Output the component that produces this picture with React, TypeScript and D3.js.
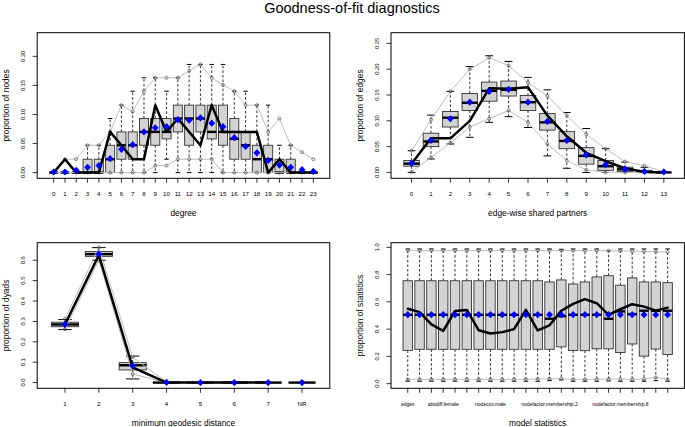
import * as d3 from "d3";

// ---- degree panel ----
const DEG_LABELS = ["0", "1", "2", "3", "4", "5", "6", "7", "8", "9", "10", "11", "12", "13", "14", "15", "16", "17", "18", "19", "20", "21", "22", "23"];
const DEG_OBS = [0, 0.023, 0, 0, 0, 0.07, 0.047, 0.023, 0.023, 0.116, 0.07, 0.093, 0.07, 0.047, 0.116, 0.07, 0.07, 0.07, 0.07, 0, 0.023, 0, 0, 0];
const DEG_MEAN = [0.001, 0.001, 0.004, 0.009, 0.012, 0.024, 0.04, 0.048, 0.07, 0.077, 0.079, 0.091, 0.09, 0.094, 0.085, 0.079, 0.06, 0.045, 0.034, 0.021, 0.013, 0.009, 0.005, 0.002];
const DEG_Q1 = [0, 0, 0, 0, 0, 0, 0.023, 0.023, 0.047, 0.047, 0.058, 0.07, 0.047, 0.07, 0.058, 0.047, 0.023, 0.023, 0, 0, 0, 0, 0, 0];
const DEG_MED = [0, 0, 0, 0, 0, 0.023, 0.047, 0.047, 0.07, 0.07, 0.07, 0.093, 0.093, 0.093, 0.07, 0.07, 0.058, 0.047, 0.023, 0.023, 0, 0, 0, 0];
const DEG_Q3 = [0, 0, 0, 0.023, 0.023, 0.047, 0.07, 0.07, 0.093, 0.093, 0.093, 0.116, 0.116, 0.116, 0.116, 0.116, 0.093, 0.07, 0.047, 0.047, 0.023, 0.023, 0, 0];
const DEG_WLO = [0, 0, 0, 0, 0, 0, 0, 0, 0, 0, 0.023, 0, 0, 0, 0, 0, 0, 0, 0, 0, 0, 0, 0, 0];
const DEG_WHI = [0, 0, 0, 0.047, 0.047, 0.093, 0.116, 0.14, 0.163, 0.163, 0.14, 0.163, 0.186, 0.186, 0.186, 0.186, 0.14, 0.14, 0.116, 0.116, 0.047, 0.047, 0, 0];
const DEG_BLO = [0, 0, 0, 0, 0, 0, 0, 0, 0, 0.012, 0.012, 0.023, 0.023, 0.023, 0.023, 0, 0, 0, 0, 0, 0, 0, 0, 0];
const DEG_BHI = [0, 0.023, 0.023, 0.047, 0.047, 0.07, 0.116, 0.105, 0.14, 0.163, 0.163, 0.163, 0.175, 0.186, 0.163, 0.151, 0.14, 0.116, 0.116, 0.07, 0.093, 0.047, 0.035, 0.023];
const DEG_YTICKS = [0, 0.05, 0.1, 0.15, 0.2];

// ---- edge-wise shared partners ----
const ESP_LABELS = ["0", "1", "2", "3", "4", "5", "6", "7", "8", "9", "10", "11", "12", "13"];
const ESP_OBS = [0.017, 0.066, 0.066, 0.1, 0.163, 0.162, 0.165, 0.11, 0.07, 0.038, 0.022, 0.008, 0.001, 0];
const ESP_MEAN = [0.018, 0.062, 0.104, 0.136, 0.157, 0.161, 0.136, 0.099, 0.062, 0.034, 0.015, 0.006, 0.002, 0.001];
const ESP_Q1 = [0.012, 0.05, 0.088, 0.12, 0.138, 0.148, 0.12, 0.082, 0.046, 0.016, 0.004, 0.002, 0, 0];
const ESP_MED = [0.017, 0.06, 0.106, 0.135, 0.158, 0.16, 0.136, 0.097, 0.061, 0.032, 0.012, 0.006, 0.001, 0];
const ESP_Q3 = [0.023, 0.076, 0.118, 0.153, 0.175, 0.177, 0.149, 0.114, 0.079, 0.048, 0.023, 0.01, 0.004, 0];
const ESP_WLO = [0, 0.026, 0.055, 0.068, 0.097, 0.108, 0.087, 0.032, 0.008, 0, 0, 0, 0, 0];
const ESP_WHI = [0.042, 0.111, 0.157, 0.205, 0.226, 0.215, 0.184, 0.16, 0.116, 0.085, 0.046, 0.02, 0.01, 0];
const ESP_BLO = [0.001, 0.029, 0.057, 0.088, 0.104, 0.12, 0.097, 0.055, 0.023, 0.005, 0, 0, 0, 0];
const ESP_BHI = [0.042, 0.102, 0.157, 0.2, 0.222, 0.207, 0.174, 0.148, 0.11, 0.074, 0.046, 0.021, 0.013, 0.001];
const ESP_YTICKS = [0, 0.05, 0.1, 0.15, 0.2, 0.25];

// ---- minimum geodesic distance ----
const GEO_LABELS = ["1", "2", "3", "4", "5", "6", "7", "NR"];
const GEO_OBS = [0.285, 0.625, 0.075, 0, 0, 0, 0, 0];
const GEO_MEAN = [0.285, 0.63, 0.082, 0.001, 0, 0, 0, 0];
const GEO_Q1 = [0.274, 0.619, 0.062, 0, 0, 0, 0, 0];
const GEO_MED = [0.285, 0.63, 0.085, 0, 0, 0, 0, 0];
const GEO_Q3 = [0.296, 0.643, 0.098, 0.001, 0, 0, 0, 0];
const GEO_WLO = [0.26, 0.6, 0.018, 0, 0, 0, 0, 0];
const GEO_WHI = [0.309, 0.662, 0.13, 0.002, 0, 0, 0, 0];
const GEO_BLO = [0.262, 0.6, 0.042, 0, 0, 0, 0, 0];
const GEO_BHI = [0.312, 0.662, 0.125, 0.002, 0, 0, 0, 0];
const GEO_YTICKS = [0, 0.1, 0.2, 0.3, 0.4, 0.5, 0.6];

// ---- model statistics ----
const STAT_LABELS = ["edges", "", "", "absdiff.female", "", "", "", "nodecov.male", "", "", "", "", "nodefactor.membership.2", "", "", "", "", "", "nodefactor.membership.8", "", "", "", ""];
const STAT_OBS = [0.55, 0.525, 0.435, 0.387, 0.533, 0.541, 0.392, 0.368, 0.378, 0.4, 0.541, 0.391, 0.428, 0.535, 0.585, 0.62, 0.59, 0.505, 0.546, 0.583, 0.565, 0.536, 0.558];
const STAT_MEAN = [0.506, 0.506, 0.506, 0.506, 0.506, 0.506, 0.506, 0.506, 0.506, 0.506, 0.506, 0.506, 0.506, 0.506, 0.506, 0.506, 0.506, 0.506, 0.506, 0.506, 0.506, 0.506, 0.506];
const STAT_Q1 = [0.244, 0.252, 0.252, 0.252, 0.252, 0.252, 0.252, 0.252, 0.252, 0.252, 0.252, 0.252, 0.252, 0.27, 0.244, 0.242, 0.256, 0.256, 0.229, 0.291, 0.202, 0.254, 0.214];
const STAT_MED = [0.505, 0.505, 0.505, 0.505, 0.505, 0.505, 0.505, 0.505, 0.505, 0.505, 0.505, 0.505, 0.476, 0.495, 0.505, 0.505, 0.505, 0.476, 0.53, 0.51, 0.535, 0.535, 0.535];
const STAT_Q3 = [0.755, 0.755, 0.755, 0.755, 0.755, 0.755, 0.755, 0.755, 0.755, 0.755, 0.755, 0.755, 0.746, 0.761, 0.731, 0.746, 0.783, 0.792, 0.722, 0.776, 0.746, 0.746, 0.741];
const STAT_WLO = [0.018, 0.018, 0.018, 0.018, 0.018, 0.018, 0.018, 0.018, 0.018, 0.018, 0.018, 0.018, 0.022, 0.028, 0.018, 0.018, 0.018, 0.02, 0.018, 0.018, 0.018, 0.022, 0.018];
const STAT_WHI = [0.988, 0.988, 0.988, 0.988, 0.988, 0.988, 0.988, 0.988, 0.988, 0.988, 0.988, 0.988, 0.988, 0.985, 0.988, 0.988, 0.988, 0.975, 0.988, 0.988, 0.988, 0.988, 0.988];
const STAT_BLO = [0.032, 0.032, 0.032, 0.032, 0.032, 0.032, 0.032, 0.032, 0.032, 0.032, 0.032, 0.034, 0.036, 0.036, 0.032, 0.032, 0.032, 0.034, 0.034, 0.032, 0.034, 0.045, 0.032];
const STAT_BHI = [0.976, 0.976, 0.976, 0.976, 0.976, 0.976, 0.976, 0.976, 0.976, 0.976, 0.976, 0.976, 0.976, 0.976, 0.976, 0.976, 0.976, 0.975, 0.974, 0.972, 0.97, 0.968, 0.965];
const STAT_YTICKS = [0, 0.2, 0.4, 0.6, 0.8, 1];

const FONT = "'Liberation Sans', Arial, Helvetica, sans-serif";

interface PanelProps {
	left: number;
	right: number;
	top: number;
	bottom: number;
	yDomain: [number, number];
	yTicks: number[];
	yFormat: string;
	xTitle: string;
	yTitle: string;
	labels: string[];
	labelSize?: number;
	connect?: number;
	obs: number[];
	mean: number[];
	q1: number[];
	med: number[];
	q3: number[];
	wlo: number[];
	whi: number[];
	blo: number[];
	bhi: number[];
}

function Panel(p: PanelProps) {
	const n = p.labels.length;
	const x = d3
		.scaleLinear()
		.domain([0.5 - 0.04 * n, n + 0.5 + 0.04 * n])
		.range([p.left, p.right]);
	const y = d3.scaleLinear().domain(p.yDomain).range([p.bottom, p.top]);
	const pos = d3.range(1, n + 1);
	const hb = x(1.4) - x(1); // half box width
	const hc = x(1.2) - x(1); // half staple width
	const conn = p.connect ?? n;
	const fmt = d3.format(p.yFormat);

	const line = d3
		.line<number>()
		.x((_, i) => x(i + 1))
		.y((v) => y(v));
	const sub = (a: number[]) => a.slice(0, conn);

	return (
		<g>
			{/* whiskers */}
			{pos.map((k, i) => (
				<g key={`w${k}`} stroke="#000">
					<line x1={x(k)} x2={x(k)} y1={y(p.q3[i])} y2={y(p.whi[i])} strokeWidth={0.8} strokeDasharray="2.6,2" />
					<line x1={x(k)} x2={x(k)} y1={y(p.q1[i])} y2={y(p.wlo[i])} strokeWidth={0.8} strokeDasharray="2.6,2" />
					<line x1={x(k) - hc} x2={x(k) + hc} y1={y(p.whi[i])} y2={y(p.whi[i])} strokeWidth={1} />
					<line x1={x(k) - hc} x2={x(k) + hc} y1={y(p.wlo[i])} y2={y(p.wlo[i])} strokeWidth={1} />
				</g>
			))}
			{/* boxes */}
			{pos.map((k, i) => (
				<g key={`b${k}`}>
					<rect
						x={x(k) - hb}
						y={y(p.q3[i])}
						width={2 * hb}
						height={Math.max(0, y(p.q1[i]) - y(p.q3[i]))}
						fill="#d3d3d3"
						stroke="#333"
						strokeWidth={0.9}
					/>
					<line x1={x(k) - hb} x2={x(k) + hb} y1={y(p.med[i])} y2={y(p.med[i])} stroke="#000" strokeWidth={2.4} />
				</g>
			))}
			{/* simulation bands */}
			<path d={line(sub(p.bhi)) ?? ""} fill="none" stroke="#bebebe" strokeWidth={1} />
			<path d={line(sub(p.blo)) ?? ""} fill="none" stroke="#bebebe" strokeWidth={1} />
			{pos.map((k, i) => (
				<g key={`c${k}`} fill="none" stroke="#555" strokeWidth={0.7}>
					<circle cx={x(k)} cy={y(p.bhi[i])} r={1.5} />
					<circle cx={x(k)} cy={y(p.blo[i])} r={1.5} />
				</g>
			))}
			{/* observed */}
			<path d={line(sub(p.obs)) ?? ""} fill="none" stroke="#000" strokeWidth={2.5} strokeLinejoin="round" strokeLinecap="round" />
			{/* simulated means */}
			{pos.map((k, i) => (
				<path
					key={`m${k}`}
					d={`M${x(k)},${y(p.mean[i]) - 3.6}L${x(k) + 3.4},${y(p.mean[i])}L${x(k)},${y(p.mean[i]) + 3.6}L${x(k) - 3.4},${y(p.mean[i])}Z`}
					fill="#0000ff"
				/>
			))}
			{/* frame */}
			<rect x={p.left} y={p.top} width={p.right - p.left} height={p.bottom - p.top} fill="none" stroke="#000" strokeWidth={1} />
			{/* x axis */}
			{pos.map((k, i) => (
				<g key={`xt${k}`}>
					<line x1={x(k)} x2={x(k)} y1={p.bottom} y2={p.bottom + 4.5} stroke="#000" strokeWidth={0.8} />
					<text x={x(k)} y={p.bottom + 17.8} textAnchor="middle" fontSize={p.labelSize ?? 6.2} fontFamily={FONT} fill="#000">
						{p.labels[i]}
					</text>
				</g>
			))}
			<text x={(p.left + p.right) / 2} y={p.bottom + 37.3} textAnchor="middle" fontSize={8.4} fontFamily={FONT} fill="#000">
				{p.xTitle}
			</text>
			{/* y axis */}
			{p.yTicks.map((v) => (
				<g key={`yt${v}`}>
					<line x1={p.left - 4.5} x2={p.left} y1={y(v)} y2={y(v)} stroke="#000" strokeWidth={0.8} />
					<text
						transform={`translate(${p.left - 11.8},${y(v)}) rotate(-90)`}
						textAnchor="middle"
						fontSize={5.8}
						fontFamily={FONT}
						fill="#000"
					>
						{fmt(v)}
					</text>
				</g>
			))}
			<text
				transform={`translate(${p.left - 28.5},${(p.top + p.bottom) / 2}) rotate(-90)`}
				textAnchor="middle"
				fontSize={8.4}
				fontFamily={FONT}
				fill="#000"
			>
				{p.yTitle}
			</text>
		</g>
	);
}

export default function App() {
	const L = { left: 37.2, right: 329.8 };
	const R = { left: 391, right: 684.4 };
	const T = { top: 32.7, bottom: 178.3 };
	const B = { top: 242.7, bottom: 388.3 };
	return (
		<svg width={685} height={427} style={{ position: "absolute", left: 0, top: 0, background: "#fff" }}>
			<rect width={685} height={427} fill="#fff" />
			<text x={352} y={13} textAnchor="middle" fontSize={14.5} fontFamily={FONT} fill="#000">
				Goodness-of-fit diagnostics
			</text>
			<Panel
				{...L}
				{...T}
				yDomain={[-0.0098, 0.2406]}
				yTicks={DEG_YTICKS}
				yFormat=".2f"
				xTitle="degree"
				yTitle="proportion of nodes"
				labels={DEG_LABELS}
				obs={DEG_OBS}
				mean={DEG_MEAN}
				q1={DEG_Q1}
				med={DEG_MED}
				q3={DEG_Q3}
				wlo={DEG_WLO}
				whi={DEG_WHI}
				blo={DEG_BLO}
				bhi={DEG_BHI}
			/>
			<Panel
				{...R}
				{...T}
				yDomain={[-0.0114, 0.2707]}
				yTicks={ESP_YTICKS}
				yFormat=".2f"
				xTitle="edge-wise shared partners"
				yTitle="proportion of edges"
				labels={ESP_LABELS}
				obs={ESP_OBS}
				mean={ESP_MEAN}
				q1={ESP_Q1}
				med={ESP_MED}
				q3={ESP_Q3}
				wlo={ESP_WLO}
				whi={ESP_WHI}
				blo={ESP_BLO}
				bhi={ESP_BHI}
			/>
			<Panel
				{...L}
				{...B}
				yDomain={[-0.028, 0.686]}
				yTicks={GEO_YTICKS}
				yFormat=".1f"
				xTitle="minimum geodesic distance"
				yTitle="proportion of dyads"
				labels={GEO_LABELS}
				connect={7}
				obs={GEO_OBS}
				mean={GEO_MEAN}
				q1={GEO_Q1}
				med={GEO_MED}
				q3={GEO_Q3}
				wlo={GEO_WLO}
				whi={GEO_WHI}
				blo={GEO_BLO}
				bhi={GEO_BHI}
			/>
			<Panel
				{...R}
				{...B}
				yDomain={[-0.034, 1.034]}
				yTicks={STAT_YTICKS}
				yFormat=".1f"
				xTitle="model statistics"
				yTitle="proportion of statistics"
				labels={STAT_LABELS}
				labelSize={5}
				obs={STAT_OBS}
				mean={STAT_MEAN}
				q1={STAT_Q1}
				med={STAT_MED}
				q3={STAT_Q3}
				wlo={STAT_WLO}
				whi={STAT_WHI}
				blo={STAT_BLO}
				bhi={STAT_BHI}
			/>
		</svg>
	);
}
